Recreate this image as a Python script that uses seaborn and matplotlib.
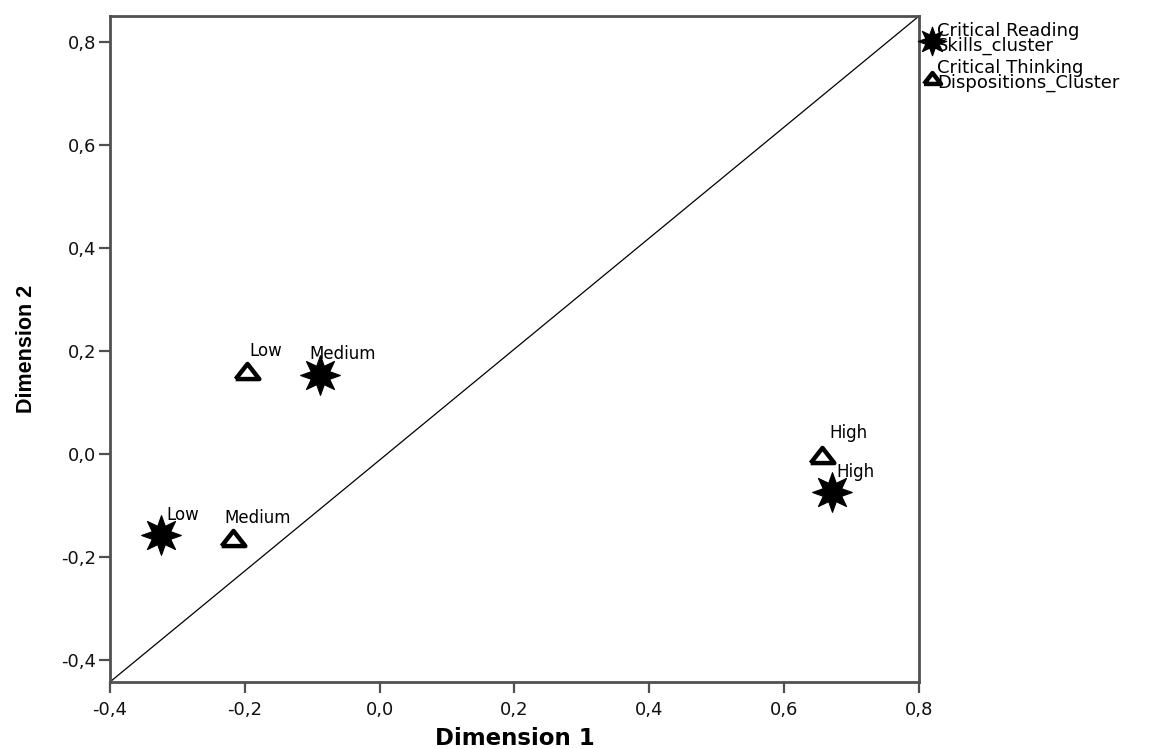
import numpy as np
import pandas as pd
import seaborn as sns
import matplotlib.pyplot as plt
from matplotlib import font_manager
from matplotlib.path import Path
from matplotlib.ticker import FuncFormatter

# category points (joint plot of category points)
categories = ['Low', 'Medium', 'High', 'Low', 'Medium', 'High']
clusters = ['Critical Reading\nSkills_cluster'] * 3 + ['Critical Thinking\nDispositions_Cluster'] * 3
dim1 = [-0.324, -0.089, 0.671, -0.196, -0.218, 0.656]
dim2 = [-0.157, 0.153, -0.074, 0.161, -0.163, -0.002]

xticks = [-0.4, -0.2, 0.0, 0.2, 0.4, 0.6, 0.8]
yticks = [-0.4, -0.2, 0.0, 0.2, 0.4, 0.6, 0.8]

df = pd.DataFrame({'Dimension 1': dim1, 'Dimension 2': dim2,
                   'category': categories, 'cluster': clusters})

sns.set_style('ticks')
plt.rcParams['font.family'] = ['DejaVu Sans']
plt.rcParams['axes.unicode_minus'] = False

# narrow bold face for the y label if available
try:
    font_manager.findfont(font_manager.FontProperties(family='Liberation Sans Narrow'),
                          fallback_to_default=False)
    ylab_font = dict(family='Liberation Sans Narrow', size=19)
except Exception:
    ylab_font = dict(family='Liberation Sans', size=15.5)

fig = plt.figure(figsize=(11.55, 7.49), dpi=100)
ax = fig.add_axes([0.0952, 0.0895, 0.7005, 0.8891])

# chunky 8-point star like SPSS
star = Path.unit_regular_star(8, innerCircle=0.5)
tri = [(-1, -0.64), (1, -0.64), (0, 0.64), (-1, -0.64)]

sns.scatterplot(data=df[df['cluster'] == clusters[0]], x='Dimension 1', y='Dimension 2',
                marker=star, s=820, color='black', edgecolor='black', linewidth=0.8,
                ax=ax, label=clusters[0], zorder=3)
sns.scatterplot(data=df[df['cluster'] == clusters[3]], x='Dimension 1', y='Dimension 2',
                marker=tri, s=290, facecolor='white', edgecolor='black', linewidth=3.2,
                ax=ax, label=clusters[3], zorder=3)

# point labels (offsets in points)
offsets = [(3.6, 10.8), (-7.2, 11.5), (2.9, 10.8), (1.4, 10.8), (-5.8, 10.8), (5.0, 12.2)]
for (x, y, lab), off in zip(zip(dim1, dim2, categories), offsets):
    ax.annotate(lab, (x, y), xytext=off, textcoords='offset points',
                fontsize=12, ha='left', va='baseline', color='black')

# reference diagonal
ax.plot([0, 1], [0, 1], transform=ax.transAxes, color='black', linewidth=0.9, zorder=2)

ax.set_xlim(-0.4, 0.8)
ax.set_ylim(-0.443, 0.85)
ax.set_xticks(xticks)
ax.set_yticks(yticks)
fmt = FuncFormatter(lambda v, p: f'{v:.1f}'.replace('.', ',').replace('-0,0', '0,0'))
ax.xaxis.set_major_formatter(fmt)
ax.yaxis.set_major_formatter(fmt)
ax.tick_params(direction='out', length=8, width=1.6, color='#505050',
               labelsize=13, labelcolor='#111111')
ax.tick_params(axis='y', pad=2)
ax.tick_params(axis='x', pad=6)
for sp in ax.spines.values():
    sp.set_visible(True)
    sp.set_linewidth(2.0)
    sp.set_color('#505050')

ax.set_xlabel('Dimension 1', fontsize=16.5, fontweight='bold', color='black')
ax.xaxis.set_label_coords(0.5, -0.068)
ax.set_ylabel('Dimension 2', fontweight='bold', color='black', **ylab_font)
ax.yaxis.set_label_coords(-0.09, 0.5)

leg = ax.legend(loc='upper left', bbox_to_anchor=(1.0, 0.997), frameon=False,
                fontsize=13, handletextpad=-0.2, handlelength=1.0,
                borderaxespad=0.0, borderpad=0.2, labelspacing=0.2, markerscale=0.72)
for t in leg.get_texts():
    t.set_linespacing(0.8)
    t.set_color('black')

fig.savefig('out.png', dpi=100)
